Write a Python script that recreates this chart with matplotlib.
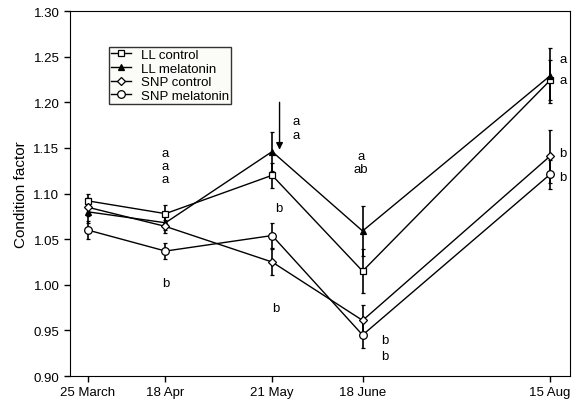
import matplotlib
matplotlib.use("Agg")
import matplotlib.pyplot as plt

plt.rcParams["font.family"] = ["Liberation Sans", "DejaVu Sans"]
plt.rcParams["font.size"] = 9.5

# days since 25 March
days = [0, 24, 57, 85, 143]
date_labels = ["25 March", "18 Apr", "21 May", "18 June", "15 Aug"]

ll_control = [1.092, 1.078, 1.120, 1.015, 1.224]
ll_control_err = [0.008, 0.009, 0.014, 0.024, 0.022]
ll_melatonin = [1.080, 1.068, 1.146, 1.059, 1.229]
ll_melatonin_err = [0.012, 0.008, 0.021, 0.027, 0.030]
snp_control = [1.085, 1.064, 1.025, 0.961, 1.141]
snp_control_err = [0.010, 0.007, 0.014, 0.017, 0.029]
snp_melatonin = [1.060, 1.037, 1.054, 0.945, 1.121]
snp_melatonin_err = [0.010, 0.009, 0.014, 0.014, 0.016]

# significance letters: (day, value, text)
letters = [
    (24, 1.144, "a"), (24, 1.130, "a"), (24, 1.116, "a"), (24, 1.002, "b"),
    (64.5, 1.179, "a"), (64.5, 1.164, "a"), (59, 1.084, "b"), (58, 0.975, "b"),
    (84.5, 1.141, "a"), (84.5, 1.127, "ab"), (92, 0.939, "b"), (92, 0.922, "b"),
    (147, 1.247, "a"), (147, 1.225, "a"), (147, 1.145, "b"), (147, 1.118, "b"),
]

fig = plt.figure(figsize=(5.77, 4.02), dpi=100)
ax = fig.add_axes([0.121, 0.062, 0.867, 0.908])

series = [
    ("LL control", ll_control, ll_control_err, "s", "white", 5),
    ("LL melatonin", ll_melatonin, ll_melatonin_err, "^", "black", 4.5),
    ("SNP control", snp_control, snp_control_err, "D", "white", 4),
    ("SNP melatonin", snp_melatonin, snp_melatonin_err, "o", "white", 5.5),
]
handles = []
for label, vals, err, mk, fc, ms in series:
    cont = ax.errorbar(days, vals, yerr=err, color="black", lw=1, marker=mk,
                       markerfacecolor=fc, markeredgecolor="black",
                       markersize=ms, markeredgewidth=0.9, elinewidth=1.2,
                       capsize=1.5, label=label)
    handles.append(cont[0])

for x, y, t in letters:
    ax.text(x, y, t, ha="center", va="center", fontsize=9.5)

ax.annotate("", xy=(59.3, 1.145), xytext=(59.3, 1.203),
            arrowprops=dict(arrowstyle="-|>", color="black", lw=1,
                            mutation_scale=10))

ax.set_xlim(-5.6, 149.2)
ax.set_ylim(0.90, 1.30)
ax.set_xticks(days)
ax.set_xticklabels(date_labels)
ax.set_yticks([0.90, 0.95, 1.00, 1.05, 1.10, 1.15, 1.20, 1.25, 1.30])
ax.set_yticklabels([f"{v:.2f}" for v in ax.get_yticks()])
ax.tick_params(direction="out", length=4, width=1)
ax.set_ylabel("Condition factor", fontsize=11)

leg = ax.legend(handles, [s[0] for s in series], loc="upper left",
                bbox_to_anchor=(0.065, 0.92), frameon=True, fancybox=False,
                edgecolor="black", handlelength=1.5, handletextpad=0.8,
                borderpad=0.15, labelspacing=0.1, fontsize=9.5)
leg.get_frame().set_facecolor("#fbfbf5")
leg.get_frame().set_linewidth(1)

fig.savefig("out.png", dpi=100)
